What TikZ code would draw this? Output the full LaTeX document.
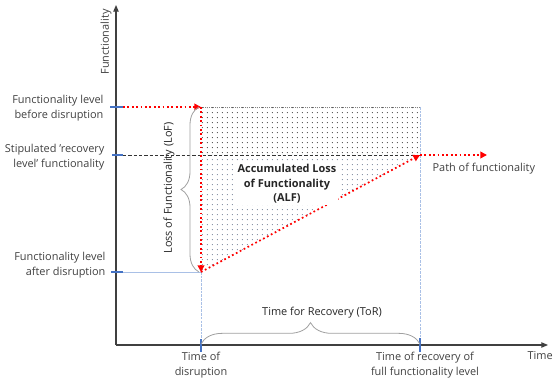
\documentclass[tikz,border=0pt]{standalone}
\usepackage{fontspec}
\setmainfont{Open Sans}
\usetikzlibrary{arrows.meta,patterns.meta,decorations.pathreplacing}
\definecolor{txtgray}{HTML}{404040}
\definecolor{tickblue}{HTML}{4472C4}
\definecolor{lineblue}{HTML}{A9C0E6}
\definecolor{dotblue}{HTML}{7F8A9E}
\definecolor{bracegray}{HTML}{A0A0A0}
\begin{document}
\begin{tikzpicture}[x=0.75pt,y=-0.75pt]
\tikzstyle{lbl} = [text=txtgray,font=\fontsize{8.2}{11}\selectfont,align=right,anchor=east,inner sep=1pt];
\tikzstyle{timelbl} = [text=txtgray,font=\fontsize{8.2}{11}\selectfont,align=center,inner sep=1pt];
\tikzstyle{redpath} = [red,dotted,line width=1.3pt,-{Triangle[length=5pt,width=5pt]}];
\tikzstyle{bluetick} = [tickblue,line width=1.6pt];
\tikzstyle{guide} = [lineblue,line width=0.6pt];
\tikzstyle{bracket} = [bracegray,line width=0.6pt,decorate];
\useasboundingbox (0,0) rectangle (553,381);

% points of the curve
\coordinate (o) at (116,345);
\coordinate (yend) at (116,5);
\coordinate (xend) at (548,345);
\coordinate (p0) at (123,107);
\coordinate (p1) at (201,107);
\coordinate (p2) at (201,272);
\coordinate (p3) at (420,155);
\coordinate (p4) at (487,155);
\coordinate (q1) at (420,107);
\coordinate (s0) at (123,155);
\coordinate (s1) at (201,155);
\coordinate (a0) at (123,272);
\coordinate (t1) at (201,345);
\coordinate (t2) at (420,345);

% shaded areas
\fill [pattern={Dots[distance=4pt,radius=0.45pt]},pattern color=black!70] (p1) rectangle (p3);
\fill [pattern={Dots[distance=4pt,radius=0.45pt]},pattern color=dotblue] (s1) -- (p3) -- (p2) -- cycle;
\draw [gray,densely dotted,line width=0.5pt] (p1) -- (q1);

% guide lines
\draw [guide] (a0) -- (p2);
\draw [guide,dash pattern=on 2pt off 0.8pt] (p2) -- (t1);
\draw [guide,dash pattern=on 2pt off 0.8pt] (q1) -- (t2);
\draw [black!80,line width=0.5pt,dash pattern=on 2.5pt off 1.5pt] (s0) -- (p3);

% axes
\draw [black!75,line width=0.8pt,-{Triangle[length=5pt,width=4pt]}] (o) -- (yend);
\draw [black!75,line width=0.8pt,-{Triangle[length=5pt,width=4pt]}] (o) -- (xend);
\node [text=txtgray,font=\fontsize{8.2}{11}\selectfont,rotate=90] (ylbl) at (106,42) {Functionality};
\node [text=txtgray,font=\fontsize{8.2}{11}\selectfont,anchor=west,inner sep=1pt] (xlbl) at (526,356) {Time};

% ticks
\draw [bluetick] (110,107) -- (p0);
\draw [bluetick] (112,155) -- (s0);
\draw [bluetick] (111,272) -- (a0);
\draw [bluetick] (201,339) -- (201,352);
\draw [bluetick] (420,338) -- (420,352);

% path of functionality
\draw [redpath] (p0) -- (p1);
\draw [redpath] (p1) -- (p2);
\draw [redpath] (p2) -- (p3);
\draw [redpath] (p3) -- (p4);

% braces
\draw [bracket,decoration={brace,amplitude=13.5pt}] (199,272) -- (199,107);
\draw [bracket,decoration={brace,amplitude=16pt}] (201,344) -- (420,344);

% labels
\node [lbl] (v1) at (105,108) {Functionality level\\before disruption};
\node [lbl] (v2) at (106,157) {Stipulated 'recovery\\level' functionality};
\node [lbl] (v3) at (107,265) {Functionality level\\after disruption};
\node [timelbl] (v4) at (201,365) {Time of\\disruption};
\node [timelbl] (v5) at (425,365) {Time of recovery of\\full functionality level};
\node [text=txtgray,font=\fontsize{8.2}{11}\selectfont,anchor=west,inner sep=1pt] (v6) at (431,169) {Path of functionality};
\node [font=\fontsize{8.2}{11}\selectfont,rotate=90,text=black!85] (lof) at (169,188) {Loss of Functionality (LoF)};
\node [font=\fontsize{8.2}{11}\selectfont,text=black!85] (tor) at (322,313) {Time for Recovery (ToR)};
\node [font=\fontsize{8.2}{11}\selectfont\bfseries,text=black!85,fill=white,align=center,inner sep=1pt] (alf) at (287,184) {Accumulated Loss\\of Functionality\\(ALF)};
\end{tikzpicture}
\end{document}
